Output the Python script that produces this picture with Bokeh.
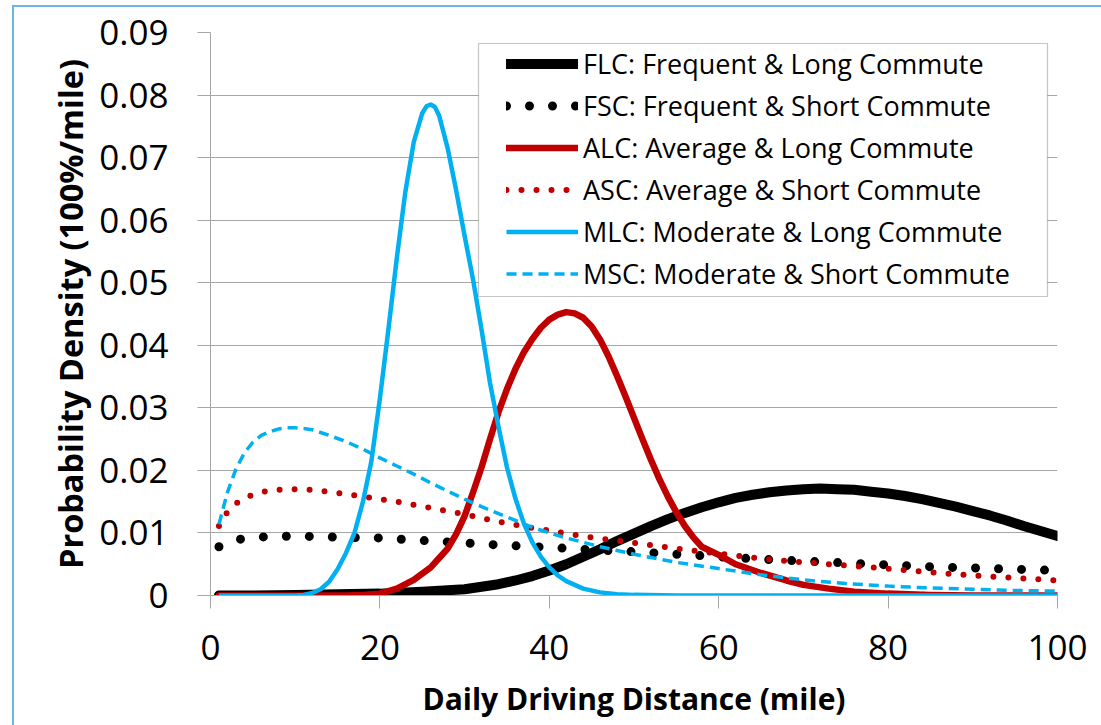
from bokeh.plotting import figure
from bokeh.models import FixedTicker, BoxAnnotation, InlineStyleSheet
from bokeh.embed import file_html
from bokeh.resources import INLINE

# ---------------- data ----------------
x_ticks = [0, 20, 40, 60, 80, 100]
y_ticks = [0, 0.01, 0.02, 0.03, 0.04, 0.05, 0.06, 0.07, 0.08, 0.09]
y_tick_labels = ["0", "0.01", "0.02", "0.03", "0.04", "0.05", "0.06", "0.07", "0.08", "0.09"]

flc_x = [1, 5, 10, 15, 20, 25, 30, 32, 34, 36, 38, 40, 42, 44, 46, 48, 50, 52, 54, 56, 58, 60,
         62, 64, 66, 68, 70, 72, 74, 76, 78, 80, 82, 84, 86, 88, 90, 92, 94, 96, 98, 100]
flc_y = [0.0, 0.0, 0.0001, 0.0002, 0.0003, 0.0006, 0.001, 0.0014, 0.0018, 0.0024, 0.0031, 0.004,
         0.005, 0.0062, 0.0074, 0.0087, 0.0099, 0.0111, 0.0122, 0.0132, 0.0141, 0.0149, 0.0156,
         0.0161, 0.0165, 0.0168, 0.017, 0.0171, 0.017, 0.0169, 0.0166, 0.0163, 0.0159, 0.0154,
         0.0148, 0.0142, 0.0135, 0.0128, 0.012, 0.0111, 0.0103, 0.0095]

fsc_x = [1, 2, 3, 5, 7, 10, 13, 16, 20, 25, 30, 35, 40, 45, 50, 55, 60, 65, 70, 75, 80, 85, 90, 95, 100]
fsc_y = [0.0078, 0.0085, 0.0089, 0.0093, 0.0094, 0.0095, 0.0094, 0.0093, 0.0092, 0.0088, 0.0084,
         0.008, 0.0077, 0.0073, 0.007, 0.0066, 0.0062, 0.0058, 0.0055, 0.0052, 0.0049, 0.0046,
         0.0044, 0.0042, 0.004]

alc_x = [1, 10, 16, 18, 20, 22, 24, 26, 27, 28, 29, 30, 31, 32, 33, 34, 35, 36, 37, 38, 39, 40,
         41, 42, 43, 44, 45, 46, 47, 48, 49, 50, 51, 52, 53, 54, 55, 56, 57, 58, 60, 62, 65, 68,
         70, 73, 76, 80, 85, 90, 100]
alc_y = [0.0, 0.0, 0.0, 0.0001, 0.0003, 0.0011, 0.0025, 0.0045, 0.006, 0.0075, 0.0098, 0.0127,
         0.0165, 0.0205, 0.025, 0.0293, 0.033, 0.0362, 0.0389, 0.041, 0.0428, 0.0441, 0.0449,
         0.0453, 0.0451, 0.0444, 0.043, 0.0409, 0.0382, 0.0351, 0.0318, 0.0284, 0.025, 0.0217,
         0.0186, 0.0158, 0.0133, 0.0111, 0.0093, 0.0078, 0.0065, 0.005, 0.0036, 0.0024, 0.0017,
         0.0011, 0.0006, 0.0003, 0.0001, 0.0, 0.0]

asc_x = [1, 2, 3, 4, 5, 6, 7, 8, 9, 10, 12, 14, 16, 18, 20, 22, 24, 26, 28, 30, 32, 34, 36, 38,
         40, 42, 44, 46, 48, 50, 55, 60, 65, 70, 75, 80, 85, 90, 95, 100]
asc_y = [0.0111, 0.0134, 0.0147, 0.0156, 0.0161, 0.0165, 0.0168, 0.0169, 0.017, 0.017, 0.0169,
         0.0166, 0.0162, 0.0158, 0.0154, 0.015, 0.0145, 0.014, 0.0135, 0.013, 0.0124, 0.0118,
         0.0113, 0.0108, 0.0104, 0.0099, 0.0095, 0.0091, 0.0088, 0.0084, 0.0075, 0.0067, 0.0059,
         0.0053, 0.0048, 0.0043, 0.0037, 0.0032, 0.0028, 0.0024]

mlc_x = [1, 10, 11, 12, 13, 14, 15, 16, 17, 18, 19, 20, 21, 22, 23, 24, 25, 25.5, 26, 26.5, 27,
         28, 29, 30, 31, 32, 33, 34, 35, 36, 37, 38, 39, 40, 41, 42, 44, 46, 48, 50, 55, 100]
mlc_y = [0.0, 0.0, 0.0001, 0.0004, 0.001, 0.0022, 0.0042, 0.0068, 0.01, 0.015, 0.0215, 0.0315,
         0.0425, 0.054, 0.0645, 0.0725, 0.0771, 0.0782, 0.0785, 0.0781, 0.0767, 0.0715, 0.0648,
         0.0575, 0.0505, 0.0425, 0.034, 0.027, 0.0205, 0.0155, 0.0115, 0.0085, 0.0062, 0.0045,
         0.0032, 0.0023, 0.0011, 0.0005, 0.0002, 0.0001, 0.0, 0.0]

msc_x = [1, 2, 3, 4, 5, 6, 7, 8, 9, 10, 11, 12, 14, 16, 18, 20, 22, 24, 26, 28, 30, 32, 34, 36,
         38, 40, 42, 44, 46, 48, 50, 55, 60, 65, 70, 75, 80, 85, 90, 95, 100]
msc_y = [0.0114, 0.0165, 0.0202, 0.0228, 0.0245, 0.0256, 0.0262, 0.0266, 0.0268, 0.0268, 0.0267,
         0.0265, 0.0256, 0.0246, 0.0234, 0.022, 0.0207, 0.0194, 0.018, 0.0167, 0.0154, 0.0142,
         0.0131, 0.012, 0.0109, 0.01, 0.0092, 0.0085, 0.0078, 0.0072, 0.0066, 0.0053, 0.0043,
         0.0033, 0.0025, 0.0019, 0.0015, 0.0012, 0.001, 0.0008, 0.0007]

labels = ["FLC: Frequent & Long Commute", "FSC: Frequent & Short Commute",
          "ALC: Average & Long Commute", "ASC: Average & Short Commute",
          "MLC: Moderate & Long Commute", "MSC: Moderate & Short Commute"]

# ---------------- figure ----------------
FONT = "Open Sans"
GRID = "#a6a6a6"

outer_css = InlineStyleSheet(css="""
:host { position: relative; }
:host::after {
  content: ""; position: absolute; left: 12px; top: 5px; right: 0px; bottom: 0px;
  border-left: 2.5px solid #6cb8d8; border-top: 2.5px solid #6cb8d8;
  pointer-events: none; z-index: 10;
}
""")

p = figure(width=1101, height=725, x_range=(0, 100), y_range=(0, 0.09),
           output_backend="svg", toolbar_location=None,
           min_border_left=210, min_border_right=44, min_border_top=32, min_border_bottom=130,
           background_fill_color="white", border_fill_color="white",
           stylesheets=[outer_css])
p.outline_line_color = None

p.xgrid.grid_line_color = None
p.ygrid.grid_line_color = GRID
p.ygrid.grid_line_width = 1

p.xaxis.ticker = FixedTicker(ticks=x_ticks)
p.yaxis.ticker = FixedTicker(ticks=y_ticks)
p.yaxis.major_label_overrides = {t: l for t, l in zip(y_ticks, y_tick_labels)}

for ax in (p.xaxis[0], p.yaxis[0]):
    ax.axis_line_color = GRID
    ax.major_tick_line_color = GRID
    ax.major_tick_out = 13
    ax.major_tick_in = 0
    ax.minor_tick_line_color = None
    ax.major_label_text_font = FONT
    ax.major_label_text_font_size = "35px"
    ax.major_label_text_color = "black"
    ax.axis_label_text_font = FONT
    ax.axis_label_text_font_style = "bold"
    ax.axis_label_text_color = "black"

p.xaxis.axis_label_text_font_size = "30px"
p.yaxis.axis_label_text_font_size = "32.5px"
p.xaxis.axis_label = "Daily Driving Distance (mile)"
p.yaxis.axis_label = "Probability Density (100%/mile)"
p.xaxis.major_label_standoff = 26
p.xaxis.axis_label_standoff = 15
p.yaxis.major_label_standoff = 29
p.yaxis.axis_label_standoff = 3

BLACK, RED, BLUE = "#000000", "#C00000", "#00B0F0"

p.line(flc_x, flc_y, line_color=BLACK, line_width=10, line_cap="round", line_join="round",
       legend_label=labels[0])
p.line(fsc_x, fsc_y, line_color=BLACK, line_width=9, line_dash="0 23", line_cap="round",
       legend_label=labels[1])
p.line(alc_x, alc_y, line_color=RED, line_width=6.5, line_cap="round", line_join="round",
       legend_label=labels[2])
p.line(asc_x, asc_y, line_color=RED, line_width=6, line_dash="0 15", line_cap="round",
       legend_label=labels[3])
p.line(mlc_x, mlc_y, line_color=BLUE, line_width=4.5, line_join="round",
       legend_label=labels[4])
p.line(msc_x, msc_y, line_color=BLUE, line_width=3.5, line_dash="10 6",
       legend_label=labels[5])

# legend frame (screen units, relative to the plot frame)
legend_frame = BoxAnnotation(left=268, right=837, top=552, bottom=299,
                             left_units="screen", right_units="screen",
                             top_units="screen", bottom_units="screen",
                             fill_color="white", fill_alpha=1,
                             line_color="#404040", line_width=1.2)
p.add_layout(legend_frame)

lg = p.legend[0]
lg.location = (296, 301)
lg.margin = 0
lg.padding = 2
lg.spacing = 1
lg.glyph_width = 72
lg.glyph_height = 41
lg.label_height = 41
lg.label_standoff = 5
lg.label_text_font = FONT
lg.label_text_font_size = "27px"
lg.label_text_color = "black"
lg.border_line_color = None
lg.background_fill_alpha = 0

open("out.html", "w").write(file_html(p, INLINE))
